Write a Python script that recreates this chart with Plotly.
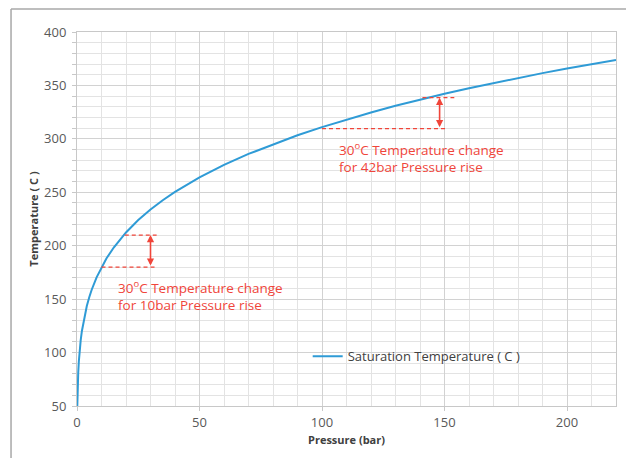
import plotly.graph_objects as go

# Saturation curve of water (pressure in bar, temperature in C)
pressure = [0.1235, 0.2, 0.3, 0.5, 0.75, 1, 1.5, 2, 3, 4, 5, 6, 8, 10, 12, 15, 20, 25, 30, 35,
            40, 50, 60, 70, 80, 90, 100, 110, 120, 130, 140, 150, 160, 170, 180, 190, 200, 210, 220]
temperature = [50.0, 60.1, 69.1, 81.3, 91.8, 99.6, 111.4, 120.2, 133.5, 143.6, 151.8, 158.8, 170.4,
               179.9, 188.0, 198.3, 212.4, 224.0, 233.9, 242.6, 250.4, 264.0, 275.6, 285.9, 295.0,
               303.4, 311.0, 318.1, 324.7, 330.9, 336.7, 342.2, 347.4, 352.3, 357.0, 361.5, 365.8,
               369.9, 373.7]

# Annotation guides (data values)
guide1_low_x = [10, 32.5]
guide1_low_y = [180, 180]
guide1_high_x = [19.5, 32.5]
guide1_high_y = [210, 210]
arrow1_x = 30
arrow1_y = [180, 210]

guide2_low_x = [100, 151]
guide2_low_y = [309.5, 309.5]
guide2_high_x = [141, 154]
guide2_high_y = [338.5, 338.5]
arrow2_x = 148
arrow2_y = [309.5, 338.5]

label1 = "30<sup>o</sup>C Temperature change<br>for 10bar Pressure rise"
label1_pos = (16, 153)
label2 = "30<sup>o</sup>C Temperature change<br>for 42bar Pressure rise"
label2_pos = (106, 282.5)

RED = "#f0453a"
BLUE = "#2f9bd6"
FONT = "Open Sans"

fig = go.Figure()
fig.add_trace(go.Scatter(x=pressure, y=temperature, mode="lines",
                         name="Saturation Temperature ( C )",
                         line=dict(color=BLUE, width=2)))
for gx, gy in [(guide1_low_x, guide1_low_y), (guide1_high_x, guide1_high_y),
               (guide2_low_x, guide2_low_y), (guide2_high_x, guide2_high_y)]:
    fig.add_trace(go.Scatter(x=gx, y=gy, mode="lines", showlegend=False, hoverinfo="skip",
                             line=dict(color=RED, width=1.2, dash="4px,3px")))

for ax_x, ay in [(arrow1_x, arrow1_y), (arrow2_x, arrow2_y)]:
    fig.add_annotation(x=ax_x, y=ay[1], ax=ax_x, ay=ay[0], xref="x", yref="y",
                       axref="x", ayref="y", text="", showarrow=True,
                       arrowhead=2, arrowside="end+start", arrowsize=0.9,
                       arrowwidth=1.6, arrowcolor=RED)

for txt, (px, py) in [(label1, label1_pos), (label2, label2_pos)]:
    fig.add_annotation(x=px, y=py, xref="x", yref="y", text=txt, showarrow=False,
                       xanchor="left", yanchor="middle", align="left",
                       font=dict(family=FONT, size=13.5, color=RED))

# outer frame (top and left edges)
fig.add_shape(type="line", xref="paper", yref="paper", x0=-0.1224, x1=1.04, y0=1.0616, y1=1.0616,
              line=dict(color="#a8a8a8", width=1.5))
fig.add_shape(type="line", xref="paper", yref="paper", x0=-0.1224, x1=-0.1224, y0=1.0616, y1=-0.2,
              line=dict(color="#a8a8a8", width=1.5))

axis_common = dict(
    automargin=False,
    showgrid=True, gridcolor="#d2d2d2", gridwidth=1,
    showline=True, linecolor="#c8c8c8", linewidth=1, mirror=True,
    ticks="outside", ticklen=4, tickcolor="#c8c8c8",
    tickfont=dict(family=FONT, size=13, color="#595959"),
    zeroline=False,
)

fig.update_xaxes(range=[0, 220], dtick=50, tick0=0,
                 minor=dict(dtick=10, showgrid=True, gridcolor="#e3e3e3", ticks=""),
                 title=dict(text="<b>Pressure (bar)</b>", standoff=6,
                            font=dict(family=FONT, size=11, color="#404040")),
                 **axis_common)
fig.update_yaxes(range=[50, 400], dtick=50, tick0=0, ticklabelstandoff=3,
                 minor=dict(dtick=10, showgrid=True, gridcolor="#e3e3e3", ticks="outside",
                            ticklen=4, tickcolor="#c8c8c8"),
                 title=dict(text="<b>Temperature ( C )</b>", standoff=3,
                            font=dict(family=FONT, size=11, color="#404040")),
                 **axis_common)

fig.update_layout(
    width=626, height=450,
    margin=dict(l=69, r=18, t=24, b=52, autoexpand=False),
    paper_bgcolor="white", plot_bgcolor="white",
    showlegend=True,
    legend=dict(x=0.428, y=0.133, xanchor="left", yanchor="middle",
                bgcolor="rgba(0,0,0,0)", itemwidth=30,
                font=dict(family=FONT, size=13, color="#404040")),
)

fig.write_html("out.html")
